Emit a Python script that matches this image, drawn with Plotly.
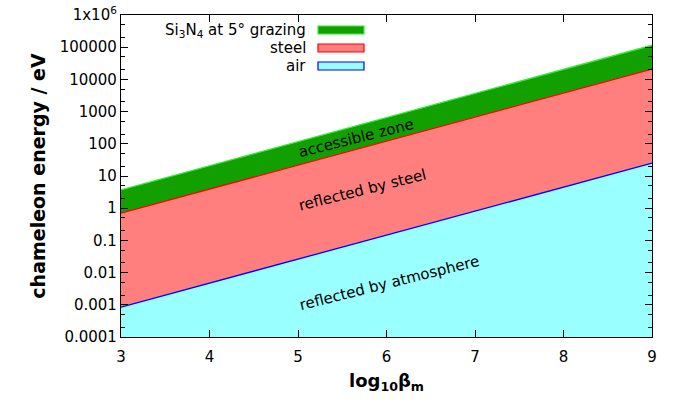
import plotly.graph_objects as go

log_beta = [3, 9]
air_energy = [0.00085, 25]
steel_energy = [0.7, 21000]
si3n4_energy = [3.7, 115000]
baseline = [1e-4, 1e-4]

ytick_vals = [1e-4, 1e-3, 1e-2, 1e-1, 1, 10, 100, 1000, 10000, 100000, 1e6]
ytick_text = ["0.0001", "0.001", "0.01", "0.1", "1", "10", "100", "1000",
              "10000", "100000", "1x10<sup>6</sup>"]
xtick_vals = [3, 4, 5, 6, 7, 8, 9]

FONT = "DejaVu Sans"
FS = 15

fig = go.Figure()
fig.add_trace(go.Scatter(x=log_beta, y=baseline, mode="lines",
                         line=dict(width=0), showlegend=False, hoverinfo="skip"))
fig.add_trace(go.Scatter(x=log_beta, y=air_energy, mode="lines", fill="tonexty",
                         fillcolor="#99ffff", line=dict(color="#0000ff", width=1.3),
                         showlegend=False))
fig.add_trace(go.Scatter(x=log_beta, y=steel_energy, mode="lines", fill="tonexty",
                         fillcolor="#ff7f7f", line=dict(color="#ff0000", width=1.3),
                         showlegend=False))
fig.add_trace(go.Scatter(x=log_beta, y=si3n4_energy, mode="lines", fill="tonexty",
                         fillcolor="#11a000", line=dict(color="#33ee33", width=1.3),
                         showlegend=False))

# zone labels
fig.add_annotation(x=5.66, y=2.18, text="accessible zone", showarrow=False,
                   textangle=-14, font=dict(family=FONT, size=FS, color="black"))
fig.add_annotation(x=5.73, y=0.565, text="reflected by steel", showarrow=False,
                   textangle=-14, font=dict(family=FONT, size=FS, color="black"))
fig.add_annotation(x=6.03, y=-2.31, text="reflected by atmosphere", showarrow=False,
                   textangle=-14, font=dict(family=FONT, size=FS, color="black"))

# layout geometry (body margin removed via post_script)
W, H = 676, 404
ml, mr, mt, mb = 121, 24, 15, 67
pw, ph = W - ml - mr, H - mt - mb
def px(xp):
    return (xp - ml) / pw
def py(yp):
    return 1 - (yp - mt) / ph

# custom legend (text right-aligned, swatch on right)
legend_items = [("Si<sub>3</sub>N<sub>4</sub> at 5° grazing", "#11a000", "#33ee33"),
                ("steel", "#ff7f7f", "#ff0000"),
                ("air", "#99ffff", "#0000ff")]
row_y = [30, 48, 66]
for (label, fillc, linec), yy in zip(legend_items, row_y):
    fig.add_annotation(x=px(308), y=py(yy), xref="paper", yref="paper",
                       text=label, showarrow=False, xanchor="right", yanchor="middle",
                       font=dict(family=FONT, size=FS, color="black"))
    fig.add_shape(type="rect", xref="paper", yref="paper",
                  x0=px(318), x1=px(364), y0=py(yy - 4), y1=py(yy + 4),
                  fillcolor=fillc, line=dict(color=linec, width=1.2))

fig.update_xaxes(range=[3, 9], tickvals=xtick_vals, ticks="inside", ticklen=7,
                 tickcolor="black", showline=True, linecolor="black", linewidth=1.2,
                 mirror="allticks", showgrid=False, zeroline=False,
                 ticklabeloverflow="allow", automargin=False, ticklabelstandoff=6,
                 tickfont=dict(family=FONT, size=FS, color="black"),
                 title=dict(text="<b>log<sub>10</sub>β<sub>m</sub></b>",
                            font=dict(family=FONT, size=18, color="black"), standoff=9))
fig.update_yaxes(type="log", range=[-4, 6], tickvals=ytick_vals, ticktext=ytick_text,
                 ticks="inside", ticklen=7, tickcolor="black", showline=True,
                 linecolor="black", linewidth=1.2, mirror="allticks", showgrid=False,
                 zeroline=False, ticklabeloverflow="allow", automargin=False,
                 minor=dict(ticks="inside", ticklen=3.5, tickcolor="black", showgrid=False),
                 tickfont=dict(family=FONT, size=FS, color="black"),
                 title=dict(text="<b>chameleon energy / eV</b>",
                            font=dict(family=FONT, size=19, color="black"), standoff=8))
fig.update_layout(width=W, height=H, margin=dict(l=ml, r=mr, t=mt, b=mb, autoexpand=False),
                  plot_bgcolor="white", paper_bgcolor="white", showlegend=False)
fig.write_html("out.html", config={"displayModeBar": False},
               post_script="document.body.style.margin='0px';document.body.style.overflow='hidden';")
